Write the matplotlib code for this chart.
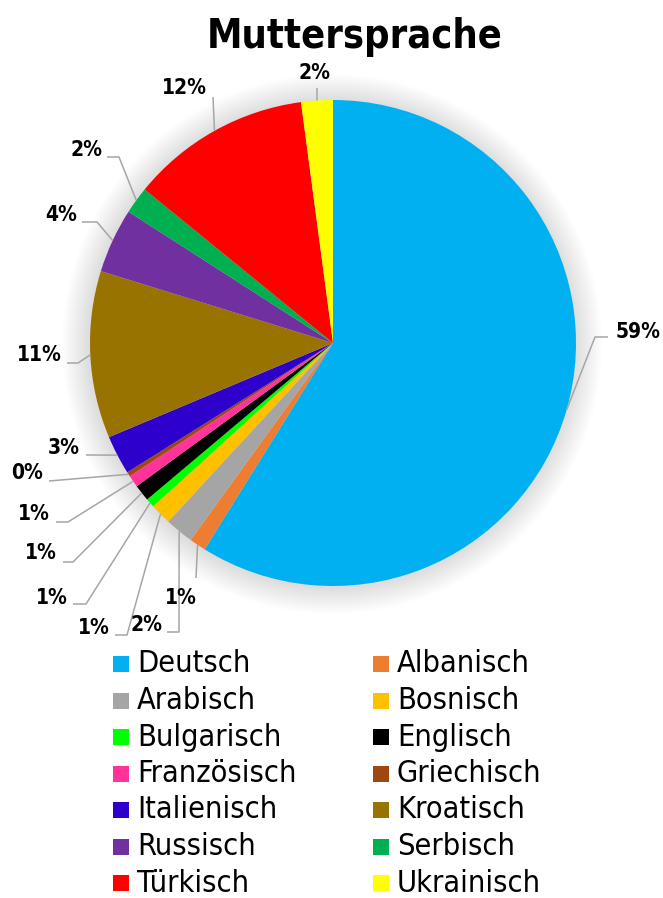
import matplotlib
matplotlib.use("Agg")
import matplotlib.pyplot as plt
from matplotlib.patches import Circle, Rectangle
import numpy as np

title = "Muttersprache"
languages = ["Deutsch", "Albanisch", "Arabisch", "Bosnisch", "Bulgarisch", "Englisch",
             "Französisch", "Griechisch", "Italienisch", "Kroatisch", "Russisch",
             "Serbisch", "Türkisch", "Ukrainisch"]
shares = [58.8, 1.1, 1.9, 1.4, 0.6, 1.1, 0.8, 0.3, 2.6, 11.1, 4.3, 1.8, 12.0, 2.1]
colors = ["#00B0F0", "#ED7D31", "#A5A5A5", "#FFC000", "#00FF00", "#000000",
          "#FF3399", "#9E480E", "#2E00CC", "#997300", "#7030A0", "#00B050",
          "#FF0000", "#FFFF00"]

# layout (pixel coords, y down): label centre and leader-line elbow points
label_pos = [(638, 332), (181, 598), (146, 625), (94, 628), (52, 598), (41, 553),
             (34, 514), (27, 473), (64, 448), (39, 355), (61, 215), (86, 150),
             (184, 88), (314, 73)]
leader = [[(608, 337), (595, 337)], [(196, 578)], [(167, 632), (179, 632)],
          [(115, 635), (127, 635)], [(73, 604), (86, 604)], [(63, 562), (73, 562)],
          [(56, 522), (68, 522)], [(49, 481)], [(86, 455)], [(67, 363), (78, 363)],
          [(82, 222), (97, 222)], [(107, 157), (119, 157)], [(213, 97)], [(317, 88)]]

W, H = 663, 898
fig = plt.figure(figsize=(W / 100, H / 100), dpi=100)
ax = fig.add_axes([0, 0, 1, 1])

FAM = "DejaVu Sans"
ST = "condensed"

cx, cy, R = 333, H - 343, 243

# soft shadow
n = 34
for i in range(n, 0, -1):
    ax.add_patch(Circle((cx - 1, cy - 1), R + i * 0.8, color="black", alpha=0.0035, lw=0, zorder=1))

wedges, _ = ax.pie(shares, colors=colors, startangle=90, counterclock=False,
                   center=(cx, cy), radius=R, frame=True,
                   wedgeprops=dict(linewidth=0))
ax.set_xlim(0, W)
ax.set_ylim(0, H)
ax.axis("off")
for w in wedges:
    w.set_zorder(2)

def py(p):
    return (p[0], H - p[1])

for w, v, lp, pts in zip(wedges, shares, label_pos, leader):
    mid = np.deg2rad((w.theta1 + w.theta2) / 2)
    ex = cx + R * np.cos(mid)
    ey = cy + R * np.sin(mid)
    xs = [py(p)[0] for p in pts] + [ex]
    ys = [py(p)[1] for p in pts] + [ey]
    ax.plot(xs, ys, color="#A6A6A6", lw=1.1, zorder=3, solid_capstyle="butt")
    tx, ty = py(lp)
    ax.text(tx, ty, f"{v:.0f}%", ha="center", va="center", fontsize=15,
            fontweight="bold", family=FAM, stretch=ST, zorder=4)

ax.text(355, H - 37, title, ha="center", va="center", fontsize=28.5,
        fontweight="bold", family=FAM, stretch=ST)

# legend
col_x = [113, 373]
row_y0, row_dy = 664, 36.5
for i, (lab, c) in enumerate(zip(languages, colors)):
    col = i % 2
    row = i // 2
    x = col_x[col]
    y = H - (row_y0 + row * row_dy)
    ax.add_patch(Rectangle((x, y - 8), 16, 16, color=c, lw=0))
    ax.text(x + 24, y, lab, ha="left", va="center", fontsize=22,
            family=FAM, stretch=ST)

fig.savefig("out.png", dpi=100)
